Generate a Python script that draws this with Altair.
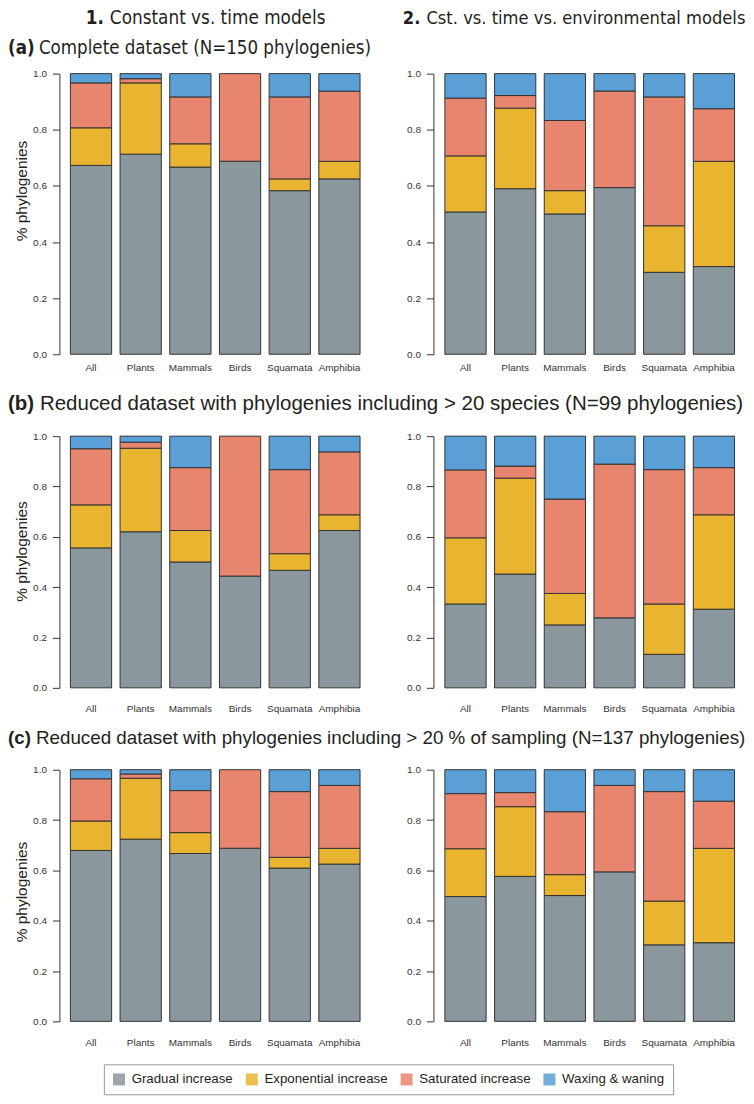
import altair as alt
import pandas as pd

groups = ["All", "Plants", "Mammals", "Birds", "Squamata", "Amphibia"]
models = ["Gradual increase", "Exponential increase", "Saturated increase", "Waxing & waning"]
model_colors = ["#8A989E", "#E9B430", "#E8856E", "#5A9FD5"]

# (a) complete dataset -- 1. constant vs time / 2. cst vs time vs env
a1_gradual     = [0.673, 0.713, 0.667, 0.688, 0.583, 0.625]
a1_exponential = [0.134, 0.254, 0.083, 0.0,   0.042, 0.0625]
a1_saturated   = [0.160, 0.015, 0.167, 0.312, 0.292, 0.25]
a1_waxing      = [0.033, 0.018, 0.083, 0.0,   0.083, 0.0625]

a2_gradual     = [0.507, 0.590, 0.500, 0.594, 0.292, 0.3125]
a2_exponential = [0.200, 0.287, 0.083, 0.0,   0.166, 0.375]
a2_saturated   = [0.206, 0.045, 0.250, 0.344, 0.459, 0.1875]
a2_waxing      = [0.087, 0.078, 0.167, 0.062, 0.083, 0.125]

# (b) > 20 species
b1_gradual     = [0.556, 0.620, 0.500, 0.444, 0.467, 0.625]
b1_exponential = [0.171, 0.332, 0.125, 0.0,   0.066, 0.0625]
b1_saturated   = [0.223, 0.024, 0.250, 0.556, 0.334, 0.25]
b1_waxing      = [0.050, 0.024, 0.125, 0.0,   0.133, 0.0625]

b2_gradual     = [0.333, 0.452, 0.250, 0.278, 0.133, 0.3125]
b2_exponential = [0.263, 0.381, 0.125, 0.0,   0.200, 0.375]
b2_saturated   = [0.270, 0.048, 0.375, 0.611, 0.534, 0.1875]
b2_waxing      = [0.134, 0.119, 0.250, 0.111, 0.133, 0.125]

# (c) > 20 % of sampling
c1_gradual     = [0.679, 0.724, 0.667, 0.688, 0.609, 0.625]
c1_exponential = [0.117, 0.242, 0.083, 0.0,   0.043, 0.0625]
c1_saturated   = [0.168, 0.017, 0.167, 0.312, 0.261, 0.25]
c1_waxing      = [0.036, 0.017, 0.083, 0.0,   0.087, 0.0625]

c2_gradual     = [0.496, 0.576, 0.500, 0.594, 0.304, 0.3125]
c2_exponential = [0.190, 0.277, 0.083, 0.0,   0.174, 0.375]
c2_saturated   = [0.219, 0.056, 0.250, 0.3435, 0.435, 0.1875]
c2_waxing      = [0.095, 0.091, 0.167, 0.0625, 0.087, 0.125]

panels_values = [
    [a1_gradual, a1_exponential, a1_saturated, a1_waxing],
    [a2_gradual, a2_exponential, a2_saturated, a2_waxing],
    [b1_gradual, b1_exponential, b1_saturated, b1_waxing],
    [b2_gradual, b2_exponential, b2_saturated, b2_waxing],
    [c1_gradual, c1_exponential, c1_saturated, c1_waxing],
    [c2_gradual, c2_exponential, c2_saturated, c2_waxing],
]

col_headers = [("1.", "Constant vs. time models"),
               ("2.", "Cst. vs. time vs. environmental models")]
row_titles = [("(a)", "Complete dataset (N=150 phylogenies)"),
              ("(b)", "Reduced dataset with phylogenies including > 20 species (N=99 phylogenies)"),
              ("(c)", "Reduced dataset with phylogenies including > 20 % of sampling (N=137 phylogenies)")]

SANS = "Liberation Sans"
NARROW = "Liberation Sans Narrow, DejaVu Sans Condensed, Arial Narrow, Liberation Sans"
TXT = "#231F20"

W = 299
row_heights = [281, 252, 252]
x_label_pad = [8, 16, 16]
y_title_pos = [117, 115, 122]


def txt(s, x, y, size, bold=False, font=SANS, align="left"):
    return alt.Chart(alt.Data(values=[{"t": s}])).mark_text(
        align=align, baseline="alphabetic", font=font, fontSize=size,
        fontWeight="bold" if bold else "normal", color=TXT
    ).encode(x=alt.value(x), y=alt.value(y), text="t:N")


legend = alt.Legend(
    title=None, orient="none", legendX=38, legendY=992, direction="horizontal",
    symbolType="square", symbolSize=144, symbolStrokeWidth=0, symbolOpacity=0.85,
    labelFont=SANS, labelFontSize=13.3, labelColor=TXT, labelOffset=6,
    columnPadding=12, padding=8.5, strokeColor="#9a9a9a", fillColor="white",
)


def panel(vals, row, col):
    recs = []
    for gi, g in enumerate(groups):
        for mi, m in enumerate(models):
            v = vals[mi][gi]
            if v > 0:
                recs.append({"group": g, "model": m, "value": v, "idx": mi})
    df = pd.DataFrame(recs)
    left = col == 0
    ax = dict(values=[0, 0.2, 0.4, 0.6, 0.8, 1.0], format=".1f", grid=False,
              domain=True, ticks=True, tickSize=7, labelPadding=6,
              offset=6.5 if left else 7, labelFontSize=10)
    if left:
        ax.update(titleX=-38, titleY=y_title_pos[row], titleBaseline="middle",
                  titleAlign="center", titleAngle=270)
    y = alt.Y("value:Q", stack="zero",
              scale=alt.Scale(domain=[0, 1], nice=False),
              axis=alt.Axis(**ax),
              title="% phylogenies" if left else None)
    x = alt.X("group:N", sort=groups, title=None,
              scale=alt.Scale(paddingInner=0.17, paddingOuter=0.09),
              axis=alt.Axis(labelAngle=0, ticks=False, tickSize=0, domain=False,
                            labelPadding=x_label_pad[row], labelFontSize=10))
    bars = alt.Chart(df).mark_bar(stroke="#333333", strokeWidth=1).encode(
        x=x, y=y,
        color=alt.Color("model:N", scale=alt.Scale(domain=models, range=model_colors),
                        legend=legend),
        order=alt.Order("idx:Q", sort="ascending"),
    )
    layers = [bars]
    if row == 0:
        num, rest = col_headers[col]
        if col == 0:
            layers += [txt(num, 38, -50, 18.8, True, NARROW, "right"),
                       txt(rest, 44, -50, 18.8, False, NARROW)]
        else:
            layers += [txt(num, -20, -50, 18.2, True, NARROW, "right"),
                       txt(rest, -14, -50, 18.2, False, NARROW)]
    if col == 0:
        lab, rest = row_titles[row]
        if row == 0:
            layers += [txt(lab, -58, -20, 18.6, True, NARROW),
                       txt(rest, -27, -20, 18.6, False, NARROW)]
        elif row == 1:
            layers += [txt(lab, -58, -26, 20.5, True, SANS),
                       txt(rest, -26, -26, 20.5, False, SANS)]
        else:
            layers += [txt(lab, -58, -26, 18.8, True, SANS),
                       txt(rest, -30, -26, 18.8, False, SANS)]
    return alt.layer(*layers).properties(width=W, height=row_heights[row])


charts = []
for i, vals in enumerate(panels_values):
    charts.append(panel(vals, i // 2, i % 2))

chart = alt.concat(
    *charts, columns=2, spacing={"row": 82, "column": 76},
    bounds="flush", align="each"
).properties(padding=0).configure_view(strokeWidth=0).configure_axis(
    labelFont=SANS, labelColor="#333333", domainColor="#333333", tickColor="#333333",
    titleFont=SANS, titleFontSize=15.5, titleFontWeight="normal", titleColor=TXT,
)

chart.save("out.html", embed_options={"renderer": "svg", "actions": False})
